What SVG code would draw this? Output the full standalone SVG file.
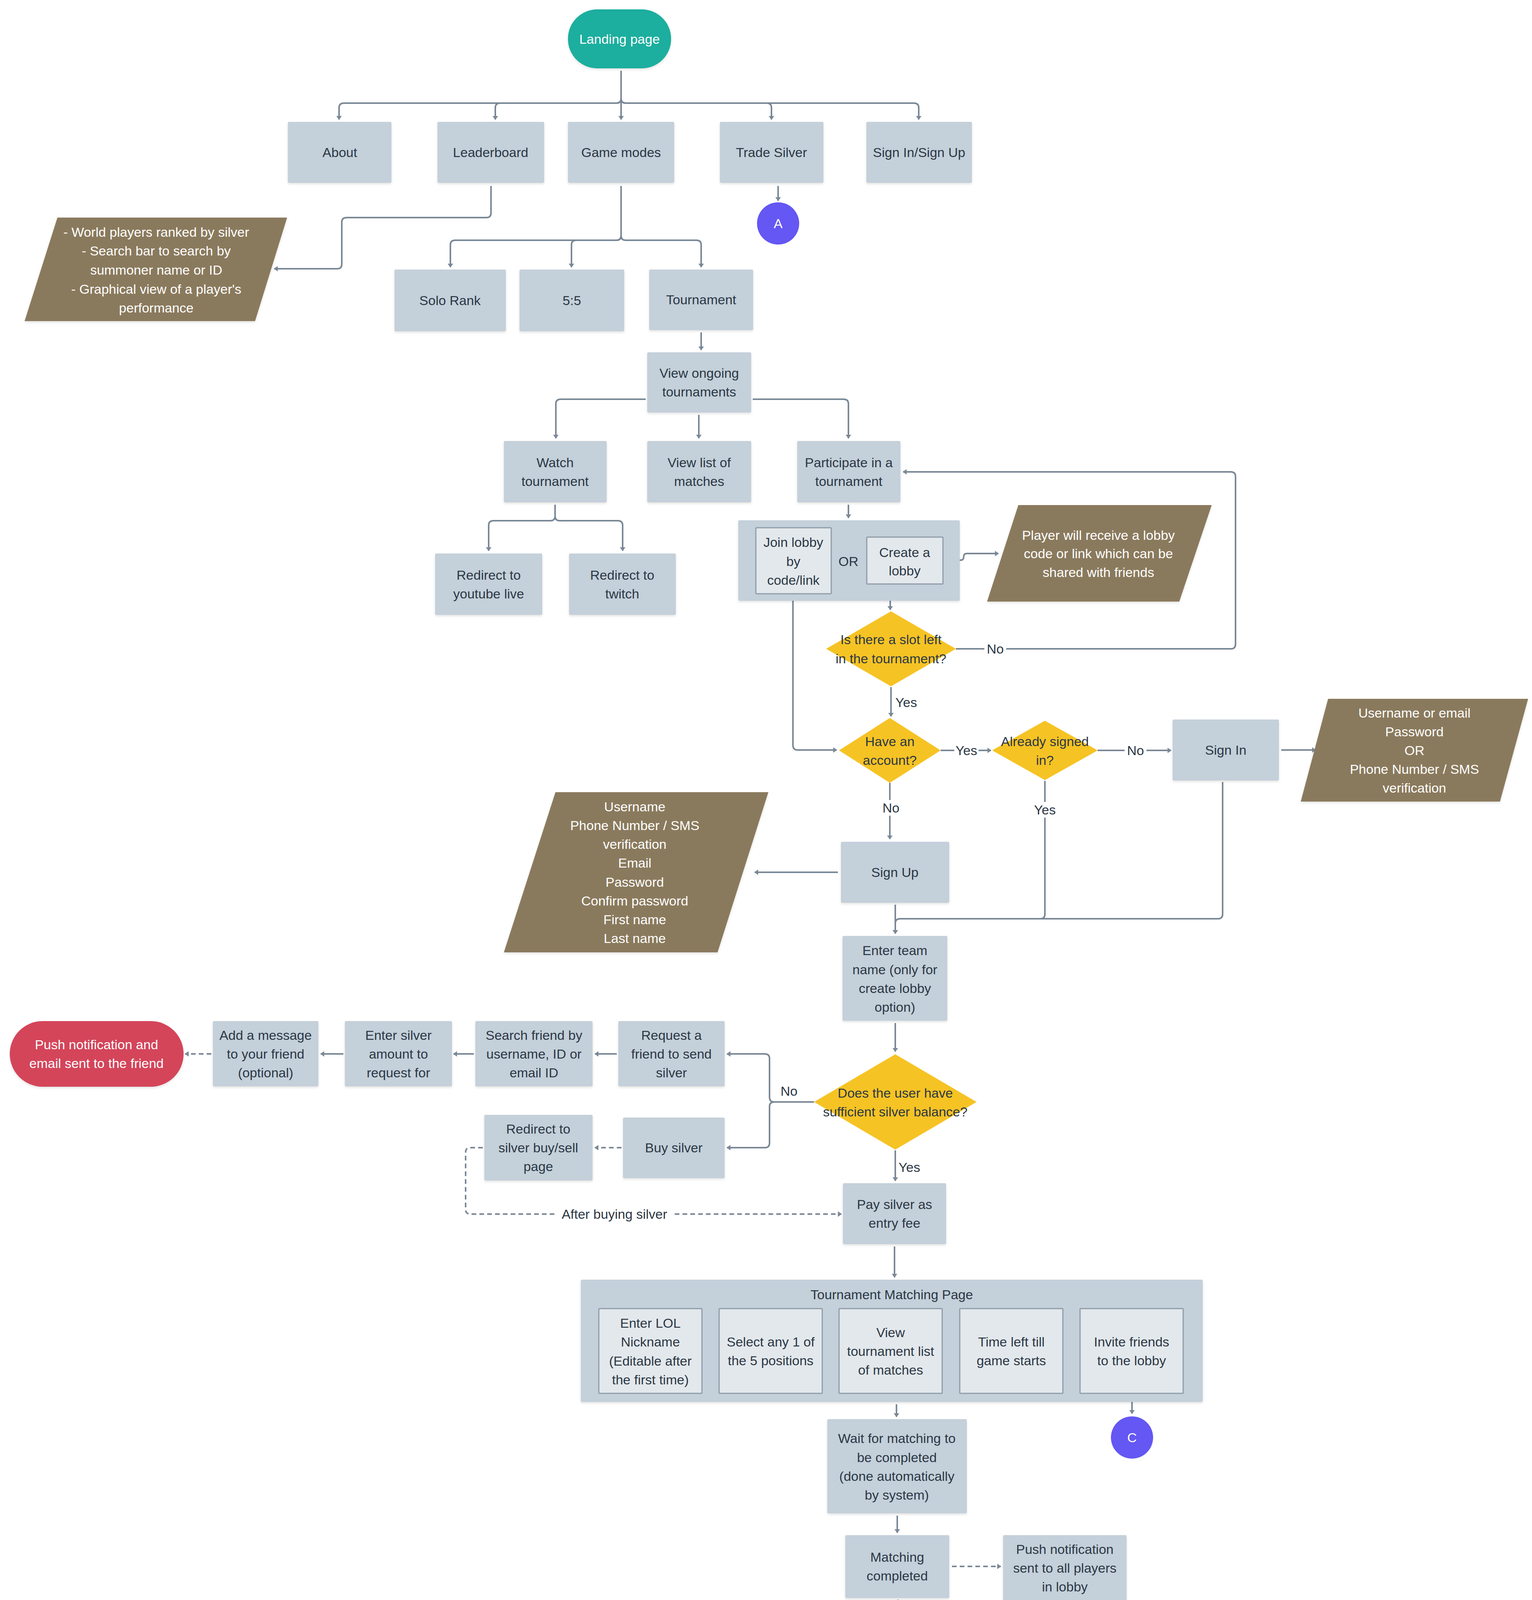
<svg xmlns="http://www.w3.org/2000/svg" width="3922" height="5845" viewBox="0 0 3922 5845">
<defs>
<style>
.n{fill:#C4D0DA}
.in{fill:#E3E8EC;stroke:#8F9CA9;stroke-width:3}
.t{font-family:"Liberation Sans",Arial,sans-serif;font-size:34px;fill:#2B3744;text-anchor:middle}
.wt{fill:#FFFFFF}
.c{fill:none;stroke:#7A8896;stroke-width:4}
.d{stroke-dasharray:12 8}
.lb{fill:#FFFFFF}
.para{fill:#8A7A5D}
.dia{fill:#F6C324}
.conn{fill:#6457F3}
</style>
<marker id="a" viewBox="0 0 10 14" refX="9" refY="7" markerWidth="10" markerHeight="14" markerUnits="userSpaceOnUse" orient="auto">
<path d="M0,0 L10,7 L0,14 z" fill="#7A8896"/>
</marker>
<filter id="sh" x="-5%" y="-5%" width="110%" height="115%">
<feDropShadow dx="0" dy="3" stdDeviation="3" flood-color="#000" flood-opacity="0.12"/>
</filter>
</defs>
<rect width="3922" height="5845" fill="#FFFFFF"/>

<g id="connectors">
<path class="c" marker-end="url(#a)" d="M1590 181 V252 Q1590 264 1578 264 H880 Q868 264 868 276 V306"/>
<path class="c" marker-end="url(#a)" d="M1590 181 V252 Q1590 264 1578 264 H1280 Q1268 264 1268 276 V306"/>
<path class="c" marker-end="url(#a)" d="M1590 181 V306"/>
<path class="c" marker-end="url(#a)" d="M1590 181 V252 Q1590 264 1602 264 H1963 Q1975 264 1975 276 V306"/>
<path class="c" marker-end="url(#a)" d="M1590 181 V252 Q1590 264 1602 264 H2340 Q2352 264 2352 276 V306"/>
<path class="c" marker-end="url(#a)" d="M1257 476 V545 Q1257 557 1245 557 H887 Q875 557 875 569 V676 Q875 688 863 688 H702"/>
<path class="c" marker-end="url(#a)" d="M1590 476 V603 Q1590 615 1578 615 H1165 Q1153 615 1153 627 V684"/>
<path class="c" marker-end="url(#a)" d="M1590 476 V603 Q1590 615 1578 615 H1475 Q1463 615 1463 627 V684"/>
<path class="c" marker-end="url(#a)" d="M1590 476 V603 Q1590 615 1602 615 H1783 Q1795 615 1795 627 V684"/>
<path class="c" marker-end="url(#a)" d="M1992 476 V514"/>
<path class="c" marker-end="url(#a)" d="M1795 851 V896"/>
<path class="c" marker-end="url(#a)" d="M1653 1022 H1435 Q1423 1022 1423 1034 V1122"/>
<path class="c" marker-end="url(#a)" d="M1927 1022 H2160 Q2172 1022 2172 1034 V1122"/>
<path class="c" marker-end="url(#a)" d="M1789 1062 V1122"/>
<path class="c" marker-end="url(#a)" d="M1421 1292 V1321 Q1421 1333 1409 1333 H1263 Q1251 1333 1251 1345 V1410"/>
<path class="c" marker-end="url(#a)" d="M1421 1292 V1321 Q1421 1333 1433 1333 H1582 Q1594 1333 1594 1345 V1410"/>
<path class="c" marker-end="url(#a)" d="M2172 1292 V1326"/>
<path class="c" marker-end="url(#a)" d="M2420 1434 H2459 Q2467 1434 2467 1426 Q2467 1417 2475 1417 H2556"/>
<path class="c" marker-end="url(#a)" d="M2319 1499 V1513 Q2319 1521 2311 1521 H2287 Q2279 1521 2279 1529 V1561"/>
<path class="c" marker-end="url(#a)" d="M2447 1661 H3151 Q3163 1661 3163 1649 V1220 Q3163 1208 3151 1208 H2312"/>
<path class="c" marker-end="url(#a)" d="M2281 1759 V1834"/>
<path class="c" marker-end="url(#a)" d="M2030 1524 V1908 Q2030 1920 2042 1920 H2142"/>
<path class="c" marker-end="url(#a)" d="M2408 1921 H2537"/>
<path class="c" marker-end="url(#a)" d="M2810 1921 H2998"/>
<path class="c" marker-end="url(#a)" d="M3280 1920 H3368"/>
<path class="c" marker-end="url(#a)" d="M2278 2004 V2148"/>
<path class="c" marker-end="url(#a)" d="M2145 2233 H1932"/>
<path class="c" marker-end="url(#a)" d="M3130 2002 V2340 Q3130 2352 3118 2352 H2304 Q2292 2352 2292 2364 V2390"/>
<path class="c" d="M2675 1999 V2340 Q2675 2352 2663 2352 H2400"/>
<path class="c" marker-end="url(#a)" d="M2292 2316 V2390"/>
<path class="c" marker-end="url(#a)" d="M2292 2619 V2692"/>
<path class="c" marker-end="url(#a)" d="M2084 2821 H1982 Q1970 2821 1970 2809 V2710 Q1970 2698 1958 2698 H1861"/>
<path class="c" marker-end="url(#a)" d="M2084 2821 H1982 Q1970 2821 1970 2833 V2926 Q1970 2938 1958 2938 H1861"/>
<path class="c" marker-end="url(#a)" d="M1579 2698 H1523"/>
<path class="c" marker-end="url(#a)" d="M1213 2698 H1161"/>
<path class="c" marker-end="url(#a)" d="M879 2698 H821"/>
<path class="c d" marker-end="url(#a)" d="M541 2698 H474"/>
<path class="c d" marker-end="url(#a)" d="M1591 2938 H1523"/>
<path class="c d" marker-end="url(#a)" d="M1236 2938 H1204 Q1192 2938 1192 2950 V3096 Q1192 3108 1204 3108 H2154"/>
<path class="c" marker-end="url(#a)" d="M2292 2945 V3023"/>
<path class="c" marker-end="url(#a)" d="M2290 3191 V3270"/>
<path class="c" marker-end="url(#a)" d="M2295 3595 V3627"/>
<path class="c" marker-end="url(#a)" d="M2898 3573 V3619"/>
<path class="c" marker-end="url(#a)" d="M2297 3880 V3924"/>
<path class="c d" marker-end="url(#a)" d="M2437 4010 H2562"/>
<path class="c" marker-end="url(#a)" d="M2299 4095 V4139 Q2299 4151 2287 4151 H1745 Q1733 4151 1733 4163 V4179"/>
<path class="c" marker-end="url(#a)" d="M2299 4095 V4257"/>
<path class="c" marker-end="url(#a)" d="M2299 4095 V4139 Q2299 4151 2311 4151 H3349 Q3361 4151 3361 4163 V4304"/>
<path class="c" marker-end="url(#a)" d="M1733 4346 V4705"/>
<path class="c" marker-end="url(#a)" d="M1733 4346 V4471 Q1733 4483 1721 4483 H1534"/>
<path class="c" marker-end="url(#a)" d="M2162 4376 H2112 Q2100 4376 2100 4388 V4504"/>
<path class="c" marker-end="url(#a)" d="M2436 4376 H2537 Q2549 4376 2549 4388 V4436"/>
<path class="c" marker-end="url(#a)" d="M2692 4531 H2786"/>
<path class="c" marker-end="url(#a)" d="M2549 4622 V4634 Q2549 4646 2537 4646 H2474 Q2462 4646 2462 4658 V4788"/>
<path class="c" marker-end="url(#a)" d="M2462 4961 V5022"/>
<path class="c" marker-end="url(#a)" d="M2462 5203 V5252"/>
<path class="c d" marker-end="url(#a)" d="M2322 5366 H1874"/>
<path class="c" marker-end="url(#a)" d="M1600 4799 H1481"/>
<path class="c" marker-end="url(#a)" d="M1734 4889 V5252"/>
<path class="c" marker-end="url(#a)" d="M3361 4652 V4704"/>
<path class="c" marker-end="url(#a)" d="M3361 4933 V4981"/>
<path class="c" marker-end="url(#a)" d="M1733 5478 V5556 Q1733 5568 1745 5568 H1964"/>
<path class="c" marker-end="url(#a)" d="M2462 5478 V5556 Q2462 5568 2450 5568 H2245"/>
<path class="c" marker-end="url(#a)" d="M2105 5654 V5712"/>
<g id="labels">
<rect class="lb" x="2520" y="1641" width="56" height="40"/><text class="t" x="2548" y="1673">No</text>
<text class="t" x="2320" y="1810">Yes</text>
<rect class="lb" x="2443" y="1901" width="62" height="40"/><text class="t" x="2474" y="1933">Yes</text>
<rect class="lb" x="2879" y="1901" width="56" height="40"/><text class="t" x="2907" y="1933">No</text>
<rect class="lb" x="2253" y="2048" width="56" height="40"/><text class="t" x="2281" y="2080">No</text>
<rect class="lb" x="2644" y="2053" width="62" height="40"/><text class="t" x="2675" y="2085">Yes</text>
<text class="t" x="2020" y="2805">No</text>
<text class="t" x="2328" y="3000">Yes</text>
<rect class="lb" x="1426" y="3088" width="294" height="40"/><text class="t" x="1573" y="3120">After buying silver</text>
<rect class="lb" x="2712" y="4511" width="56" height="40"/><text class="t" x="2740" y="4543">No</text>
<rect class="lb" x="2431" y="4687" width="62" height="40"/><text class="t" x="2462" y="4719">Yes</text>
<rect class="lb" x="2001" y="5346" width="226" height="40"/><text class="t" x="2114" y="5378">Room is ready</text>
<rect class="lb" x="1509" y="4779" width="56" height="40"/><text class="t" x="1537" y="4811">No</text>
<rect class="lb" x="1703" y="5051" width="62" height="40"/><text class="t" x="1734" y="5083">Yes</text>
</g>
</g>

<g id="landing"><rect x="1454" y="24" width="264" height="151" rx="75" fill="#1CAE9E" filter="url(#sh)"/><text class="t wt" x="1586" y="112">Landing page</text></g>
<g id="about"><rect class="n" x="737" y="312" width="265" height="156" rx="3" filter="url(#sh)"/><text class="t" x="870" y="402">About</text></g>
<g id="leaderboard"><rect class="n" x="1120" y="312" width="273" height="156" rx="3" filter="url(#sh)"/><text class="t" x="1256" y="402">Leaderboard</text></g>
<g id="gamemodes"><rect class="n" x="1454" y="312" width="272" height="156" rx="3" filter="url(#sh)"/><text class="t" x="1590" y="402">Game modes</text></g>
<g id="tradesilver"><rect class="n" x="1843" y="312" width="265" height="156" rx="3" filter="url(#sh)"/><text class="t" x="1975" y="402">Trade Silver</text></g>
<g id="signinup"><rect class="n" x="2218" y="312" width="270" height="156" rx="3" filter="url(#sh)"/><text class="t" x="2353" y="402">Sign In/Sign Up</text></g>
<g id="leaderinfo"><polygon class="para" points="147,557 735,557 653,822 63,822" filter="url(#sh)"/>
<text class="t wt" x="400"><tspan x="400" y="606">- World players ranked by silver</tspan><tspan x="400" y="654">- Search bar to search by</tspan><tspan x="400" y="703">summoner name or ID</tspan><tspan x="400" y="752">- Graphical view of a player's</tspan><tspan x="400" y="800">performance</tspan></text></g>
<g id="connA"><circle class="conn" cx="1992" cy="572" r="54"/><text class="t wt" x="1992" y="584">A</text></g>
<g id="solorank"><rect class="n" x="1010" y="690" width="285" height="158" rx="3" filter="url(#sh)"/><text class="t" x="1152" y="781">Solo Rank</text></g>
<g id="fivefive"><rect class="n" x="1330" y="690" width="268" height="158" rx="3" filter="url(#sh)"/><text class="t" x="1464" y="781">5:5</text></g>
<g id="tournament"><rect class="n" x="1662" y="690" width="266" height="155" rx="3" filter="url(#sh)"/><text class="t" x="1795" y="779">Tournament</text></g>
<g id="viewongoing"><rect class="n" x="1657" y="902" width="266" height="154" rx="3" filter="url(#sh)"/><text class="t"><tspan x="1790" y="967">View ongoing</tspan><tspan x="1790" y="1015">tournaments</tspan></text></g>
<g id="watch"><rect class="n" x="1290" y="1129" width="263" height="157" rx="3" filter="url(#sh)"/><text class="t"><tspan x="1421" y="1196">Watch</tspan><tspan x="1421" y="1244">tournament</tspan></text></g>
<g id="viewlist"><rect class="n" x="1657" y="1129" width="266" height="157" rx="3" filter="url(#sh)"/><text class="t"><tspan x="1790" y="1196">View list of</tspan><tspan x="1790" y="1244">matches</tspan></text></g>
<g id="participate"><rect class="n" x="2041" y="1129" width="264" height="157" rx="3" filter="url(#sh)"/><text class="t"><tspan x="2173" y="1196">Participate in a</tspan><tspan x="2173" y="1244">tournament</tspan></text></g>
<g id="youtube"><rect class="n" x="1114" y="1417" width="274" height="157" rx="3" filter="url(#sh)"/><text class="t"><tspan x="1251" y="1484">Redirect to</tspan><tspan x="1251" y="1532">youtube live</tspan></text></g>
<g id="twitch"><rect class="n" x="1457" y="1417" width="273" height="157" rx="3" filter="url(#sh)"/><text class="t"><tspan x="1593" y="1484">Redirect to</tspan><tspan x="1593" y="1532">twitch</tspan></text></g>
<g id="lobbycontainer"><rect class="n" x="1890" y="1332" width="567" height="206" rx="3" filter="url(#sh)"/>
<g id="joinlobby"><rect class="in" x="1935" y="1351" width="193" height="169" rx="2"/><text class="t"><tspan x="2031" y="1400">Join lobby</tspan><tspan x="2031" y="1449">by</tspan><tspan x="2031" y="1497">code/link</tspan></text></g>
<text class="t" x="2172" y="1449">OR</text>
<g id="createlobby"><rect class="in" x="2219" y="1375" width="195" height="120" rx="2"/><text class="t"><tspan x="2316" y="1426">Create a</tspan><tspan x="2316" y="1473">lobby</tspan></text></g>
</g>
<g id="lobbyinfo"><polygon class="para" points="2607,1293 3102,1293 3019,1540 2527,1540" filter="url(#sh)"/><text class="t wt"><tspan x="2812" y="1382">Player will receive a lobby</tspan><tspan x="2812" y="1429">code or link which can be</tspan><tspan x="2812" y="1477">shared with friends</tspan></text></g>
<g id="slotleft"><polygon class="dia" points="2281,1565 2447,1661 2281,1757 2115,1661"/><text class="t"><tspan x="2281" y="1649">Is there a slot left</tspan><tspan x="2281" y="1698">in the tournament?</tspan></text></g>
<g id="haveaccount"><polygon class="dia" points="2278,1838 2408,1921 2278,2004 2148,1921"/><text class="t"><tspan x="2278" y="1910">Have an</tspan><tspan x="2278" y="1958">account?</tspan></text></g>
<g id="signedin"><polygon class="dia" points="2675,1845 2810,1921 2675,1997 2540,1921"/><text class="t"><tspan x="2675" y="1910">Already signed</tspan><tspan x="2675" y="1958">in?</tspan></text></g>
<g id="signin"><rect class="n" x="3002" y="1842" width="272" height="156" rx="3" filter="url(#sh)"/><text class="t" x="3138" y="1932">Sign In</text></g>
<g id="signininfo"><polygon class="para" points="3400,1789 3912,1789 3840,2052 3330,2052" filter="url(#sh)"/><text class="t wt"><tspan x="3621" y="1837">Username  or email</tspan><tspan x="3621" y="1885">Password</tspan><tspan x="3621" y="1933">OR</tspan><tspan x="3621" y="1981">Phone Number / SMS</tspan><tspan x="3621" y="2029">verification</tspan></text></g>
<g id="signup"><rect class="n" x="2153" y="2155" width="277" height="156" rx="3" filter="url(#sh)"/><text class="t" x="2291" y="2245">Sign Up</text></g>
<g id="signupinfo"><polygon class="para" points="1422,2028 1967,2028 1837,2438 1290,2438" filter="url(#sh)"/><text class="t wt"><tspan x="1625" y="2077">Username</tspan><tspan x="1625" y="2125">Phone Number / SMS</tspan><tspan x="1625" y="2173">verification</tspan><tspan x="1625" y="2221">Email</tspan><tspan x="1625" y="2270">Password</tspan><tspan x="1625" y="2318">Confirm password</tspan><tspan x="1625" y="2366">First name</tspan><tspan x="1625" y="2414">Last name</tspan></text></g>
<g id="teamname"><rect class="n" x="2157" y="2396" width="268" height="217" rx="3" filter="url(#sh)"/><text class="t"><tspan x="2291" y="2445">Enter team</tspan><tspan x="2291" y="2494">name (only for</tspan><tspan x="2291" y="2542">create lobby</tspan><tspan x="2291" y="2590">option)</tspan></text></g>
<g id="balance"><polygon class="dia" points="2292,2699 2500,2821 2292,2943 2084,2821"/><text class="t"><tspan x="2292" y="2810">Does the user have</tspan><tspan x="2292" y="2858">sufficient silver balance?</tspan></text></g>
<g id="requestfriend"><rect class="n" x="1583" y="2614" width="272" height="167" rx="3" filter="url(#sh)"/><text class="t"><tspan x="1719" y="2662">Request a</tspan><tspan x="1719" y="2710">friend to send</tspan><tspan x="1719" y="2758">silver</tspan></text></g>
<g id="searchfriend"><rect class="n" x="1217" y="2614" width="300" height="167" rx="3" filter="url(#sh)"/><text class="t"><tspan x="1367" y="2662">Search friend by</tspan><tspan x="1367" y="2710">username, ID or</tspan><tspan x="1367" y="2758">email ID</tspan></text></g>
<g id="entersilver"><rect class="n" x="883" y="2614" width="274" height="167" rx="3" filter="url(#sh)"/><text class="t"><tspan x="1020" y="2662">Enter silver</tspan><tspan x="1020" y="2710">amount to</tspan><tspan x="1020" y="2758">request for</tspan></text></g>
<g id="addmessage"><rect class="n" x="545" y="2614" width="270" height="167" rx="3" filter="url(#sh)"/><text class="t"><tspan x="680" y="2662">Add a message</tspan><tspan x="680" y="2710">to your friend</tspan><tspan x="680" y="2758">(optional)</tspan></text></g>
<g id="pushfriend"><rect x="25" y="2614" width="445" height="168" rx="84" fill="#D4455A" filter="url(#sh)"/><text class="t wt"><tspan x="247" y="2686">Push notification and</tspan><tspan x="247" y="2734">email sent to the friend</tspan></text></g>
<g id="buysilver"><rect class="n" x="1595" y="2861" width="260" height="155" rx="3" filter="url(#sh)"/><text class="t" x="1725" y="2950">Buy silver</text></g>
<g id="redirectsilver"><rect class="n" x="1240" y="2854" width="277" height="168" rx="3" filter="url(#sh)"/><text class="t"><tspan x="1378" y="2902">Redirect to</tspan><tspan x="1378" y="2950">silver buy/sell</tspan><tspan x="1378" y="2998">page</tspan></text></g>
<g id="paysilver"><rect class="n" x="2158" y="3029" width="264" height="156" rx="3" filter="url(#sh)"/><text class="t"><tspan x="2290" y="3095">Pay silver as</tspan><tspan x="2290" y="3143">entry fee</tspan></text></g>
<g id="matchingpage"><rect class="n" x="1487" y="3276" width="1592" height="313" rx="3" filter="url(#sh)"/><text class="t" x="2283" y="3326">Tournament Matching Page</text>
<g id="lolnick"><rect class="in" x="1533" y="3350" width="264" height="217" rx="2"/><text class="t"><tspan x="1665" y="3399">Enter LOL</tspan><tspan x="1665" y="3447">Nickname</tspan><tspan x="1665" y="3496">(Editable after</tspan><tspan x="1665" y="3544">the first time)</tspan></text></g>
<g id="position"><rect class="in" x="1841" y="3350" width="264" height="217" rx="2"/><text class="t"><tspan x="1973" y="3447">Select any 1 of</tspan><tspan x="1973" y="3495">the 5 positions</tspan></text></g>
<g id="tournlist"><rect class="in" x="2148" y="3350" width="264" height="217" rx="2"/><text class="t"><tspan x="2280" y="3423">View</tspan><tspan x="2280" y="3471">tournament list</tspan><tspan x="2280" y="3519">of matches</tspan></text></g>
<g id="timeleft"><rect class="in" x="2457" y="3350" width="264" height="217" rx="2"/><text class="t"><tspan x="2589" y="3447">Time left till</tspan><tspan x="2589" y="3495">game starts</tspan></text></g>
<g id="invite"><rect class="in" x="2765" y="3350" width="264" height="217" rx="2"/><text class="t"><tspan x="2897" y="3447">Invite friends</tspan><tspan x="2897" y="3495">to the lobby</tspan></text></g>
</g>
<g id="connC"><circle class="conn" cx="2898" cy="3680" r="54"/><text class="t wt" x="2898" y="3692">C</text></g>
<g id="waitmatching"><rect class="n" x="2118" y="3633" width="357" height="241" rx="3" filter="url(#sh)"/><text class="t"><tspan x="2296" y="3694">Wait for matching to</tspan><tspan x="2296" y="3743">be completed</tspan><tspan x="2296" y="3791">(done automatically</tspan><tspan x="2296" y="3839">by system)</tspan></text></g>
<g id="matchingdone"><rect class="n" x="2164" y="3930" width="266" height="161" rx="3" filter="url(#sh)"/><text class="t"><tspan x="2297" y="3998">Matching</tspan><tspan x="2297" y="4046">completed</tspan></text></g>
<g id="pushall"><rect class="n" x="2568" y="3930" width="316" height="168" rx="3" filter="url(#sh)"/><text class="t"><tspan x="2726" y="3978">Push notification</tspan><tspan x="2726" y="4026">sent to all players</tspan><tspan x="2726" y="4074">in lobby</tspan></text></g>
<g id="players"><rect class="n" x="1597" y="4185" width="271" height="157" rx="3" filter="url(#sh)"/><text class="t" x="1733" y="4275">Players</text></g>
<g id="captain"><rect class="n" x="2166" y="4263" width="266" height="168" rx="3" filter="url(#sh)"/><text class="t"><tspan x="2299" y="4311">Captain</tspan><tspan x="2299" y="4359">(Randomly</tspan><tspan x="2299" y="4408">designated)</tspan></text></g>
<g id="leave"><rect class="n" x="3199" y="4310" width="326" height="336" rx="3" filter="url(#sh)"/><text class="t"><tspan x="3362" y="4370">Leave the</tspan><tspan x="3362" y="4418">tournament</tspan><tspan x="3362" y="4466">(considered as</tspan><tspan x="3362" y="4515">surrender and</tspan><tspan x="3362" y="4563">other team wins</tspan><tspan x="3362" y="4611">that round)</tspan></text></g>
<g id="chatplayers"><rect class="n" x="1247" y="4399" width="281" height="168" rx="3" filter="url(#sh)"/><text class="t"><tspan x="1387" y="4447">Chat with other</tspan><tspan x="1387" y="4495">players on the</tspan><tspan x="1387" y="4543">same team</tspan></text></g>
<g id="chatcaptain"><rect class="n" x="1970" y="4510" width="269" height="168" rx="3" filter="url(#sh)"/><text class="t"><tspan x="2105" y="4558">Chat with other</tspan><tspan x="2105" y="4606">players on the</tspan><tspan x="2105" y="4654">same team</tspan></text></g>
<g id="all10"><polygon class="dia" points="2549,4442 2692,4531 2549,4620 2406,4531"/><text class="t"><tspan x="2549" y="4497">Are all 10</tspan><tspan x="2549" y="4545">players in the</tspan><tspan x="2549" y="4593">room?</tspan></text></g>
<g id="dontgenerate"><rect class="n" x="2792" y="4381" width="289" height="302" rx="3" filter="url(#sh)"/><text class="t"><tspan x="2937" y="4448">Don't generate</tspan><tspan x="2937" y="4496">Room name and</tspan><tspan x="2937" y="4544">password until</tspan><tspan x="2937" y="4592">all 10 players</tspan><tspan x="2937" y="4640">have joined</tspan></text></g>
<g id="roomcreated"><polygon class="dia" points="1734,4711 1868,4799 1734,4887 1600,4799"/><text class="t"><tspan x="1734" y="4765">Is the room</tspan><tspan x="1734" y="4813">created by the</tspan><tspan x="1734" y="4861">captain?</tspan></text></g>
<g id="waitlobby"><rect class="n" x="1204" y="4721" width="271" height="167" rx="3" filter="url(#sh)"/><text class="t"><tspan x="1340" y="4792">Wait in the</tspan><tspan x="1340" y="4840">matching lobby</tspan></text></g>
<g id="losesilver"><rect class="n" x="3199" y="4710" width="326" height="217" rx="3" filter="url(#sh)"/><text class="t"><tspan x="3362" y="4759">All leaving team</tspan><tspan x="3362" y="4807">members lose all</tspan><tspan x="3362" y="4856">of the entry fee</tspan><tspan x="3362" y="4904">silver</tspan></text></g>
<g id="getroom"><rect class="n" x="2326" y="4794" width="271" height="164" rx="3" filter="url(#sh)"/><text class="t"><tspan x="2462" y="4864">Get room name</tspan><tspan x="2462" y="4912">and password</tspan></text></g>
<g id="lostsilver"><rect class="n" x="3199" y="4987" width="326" height="264" rx="3" filter="url(#sh)"/><text class="t"><tspan x="3362" y="5059">Lost silver will be</tspan><tspan x="3362" y="5108">distributed among</tspan><tspan x="3362" y="5156">the other team's</tspan><tspan x="3362" y="5205">players</tspan></text></g>
<g id="createroom"><rect class="n" x="2326" y="5028" width="271" height="169" rx="3" filter="url(#sh)"/><text class="t"><tspan x="2462" y="5077">Create custom</tspan><tspan x="2462" y="5125">room on LOL</tspan><tspan x="2462" y="5173">Client</tspan></text></g>
<g id="clickready"><rect class="n" x="2326" y="5258" width="271" height="216" rx="3" filter="url(#sh)"/><text class="t"><tspan x="2462" y="5306">Click "Room is</tspan><tspan x="2462" y="5354">Ready" button</tspan><tspan x="2462" y="5402">on LOL Silver</tspan><tspan x="2462" y="5450">platform</tspan></text></g>
<g id="enterroom"><rect class="n" x="1597" y="5258" width="271" height="216" rx="3" filter="url(#sh)"/><text class="t"><tspan x="1733" y="5306">Enter room</tspan><tspan x="1733" y="5354">name and</tspan><tspan x="1733" y="5402">password in</tspan><tspan x="1733" y="5450">LOL Client</tspan></text></g>
<g id="startgame"><rect class="n" x="1970" y="5487" width="269" height="163" rx="3" filter="url(#sh)"/><text class="t"><tspan x="2105" y="5558">Start game on</tspan><tspan x="2105" y="5606">LOL Client</tspan></text></g>
<g id="connB"><circle class="conn" cx="2105" cy="5770" r="54"/><text class="t wt" x="2105" y="5782">B</text></g>
</svg>
